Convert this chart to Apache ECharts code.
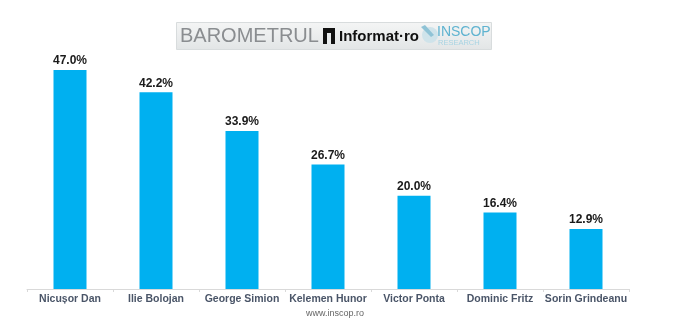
<!DOCTYPE html>
<html><head><meta charset="utf-8">
<script src="https://cdn.jsdelivr.net/npm/echarts@6/dist/echarts.min.js"></script>
<style>html,body{margin:0;padding:0;background:#fff}#c{width:700px;height:322px}</style>
</head><body><div id="c"></div>
<script>
const categories = ['Nicușor Dan','Ilie Bolojan','George Simion','Kelemen Hunor','Victor Ponta','Dominic Fritz','Sorin Grindeanu'];
const values = [47.0, 42.2, 33.9, 26.7, 20.0, 16.4, 12.9];
const chart = echarts.init(document.getElementById('c'));
chart.setOption({
  animation: false,
  grid: {left: 27, right: 71, top: 56, bottom: 33},
  xAxis: {
    type: 'category', data: categories,
    axisLine: {lineStyle: {color: '#d9d9d9', width: 1}},
    axisTick: {show: true, length: 3, lineStyle: {color: '#d9d9d9'}},
    axisLabel: {interval: 0, color: '#4a5568', fontSize: 10.5, fontFamily: 'Liberation Sans, Arial', fontWeight: 'bold', margin: 5}
  },
  yAxis: {type: 'value', min: 0, max: 50, show: false, splitLine: {show: false}},
  series: [{
    type: 'bar', data: values, barWidth: 33,
    itemStyle: {color: '#00b0f0'},
    label: {show: true, position: 'top', distance: 3, formatter: p => p.value.toFixed(1) + '%',
      color: '#1a1a1a', fontSize: 12, fontWeight: 'bold', fontFamily: 'Liberation Sans, Arial'}
  }],
  graphic: [
    {type: 'rect', left: 176, top: 22, shape: {width: 315, height: 27},
      style: {fill: new echarts.graphic.LinearGradient(0,0,0,1,[{offset:0,color:'#f4f5f5'},{offset:1,color:'#e2e5e6'}]), stroke: '#d8dcdd', lineWidth: 1}},
    {type: 'text', left: 180, top: 26, style: {text: 'BAROMETRUL', font: '20px "Liberation Sans", Arial', fill: '#8a8d90'}},
    {type: 'rect', left: 323, top: 28, shape: {width: 12, height: 16}, style: {fill: '#111'}},
    {type: 'rect', left: 327, top: 33, shape: {width: 4, height: 11}, style: {fill: '#e8ebec'}},
    {type: 'text', left: 339, top: 29, style: {text: 'Informat·ro', font: 'bold 15px "Liberation Sans", Arial', fill: '#111'}},
    {type: 'circle', shape: {cx: 430, cy: 35, r: 8}, style: {fill: '#cfe3ea'}},
    {type: 'polygon', shape: {points: [[421,27],[425,25],[434,35],[431,37]]}, style: {fill: '#8fc3d6'}},
    {type: 'text', left: 437, top: 25, style: {text: 'INSCOP', font: '14px "Liberation Sans", Arial', fill: '#5fb3d0'}},
    {type: 'text', left: 438, top: 39, style: {text: 'RESEARCH', font: '7.5px "Liberation Sans", Arial', fill: '#a8d4e3'}},
    {type: 'text', left: 306, top: 309, style: {text: 'www.inscop.ro', font: '9px "Liberation Sans", Arial', fill: '#666'}}
  ]
});
</script></body></html>
